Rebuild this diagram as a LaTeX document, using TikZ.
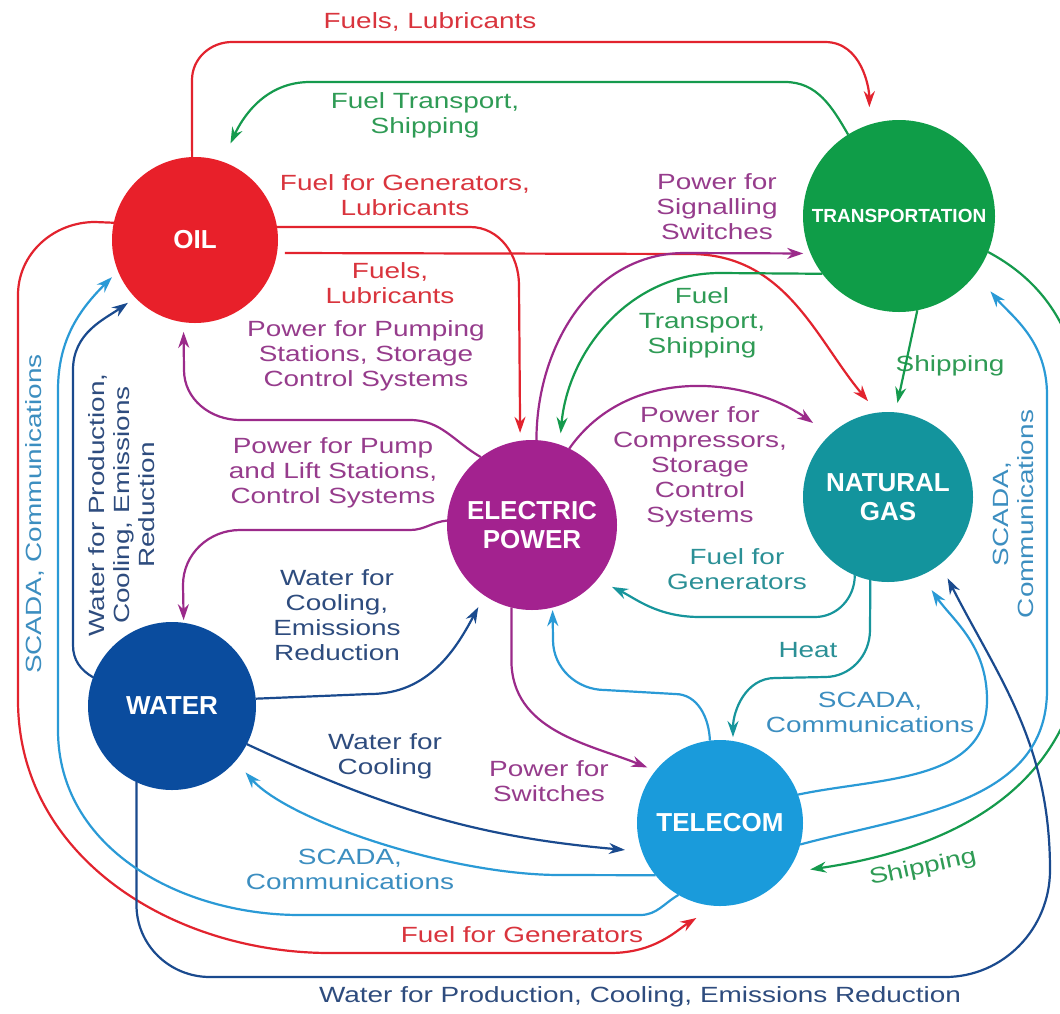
\documentclass[tikz,border=0pt]{standalone}
\usepackage{fontspec}
\setmainfont{Liberation Sans}[FakeStretch=1.27]
\newfontfamily\circfont{Liberation Sans}
\usetikzlibrary{arrows.meta}
\definecolor{coil}{HTML}{E8202A}
\definecolor{ctrans}{HTML}{0F9D48}
\definecolor{cep}{HTML}{A3228F}
\definecolor{cng}{HTML}{13949D}
\definecolor{cwater}{HTML}{0A4C9E}
\definecolor{ctel}{HTML}{1A9BDB}
\definecolor{lred}{HTML}{E2232E}
\definecolor{lgreen}{HTML}{159A4D}
\definecolor{lpurple}{HTML}{9B2A8A}
\definecolor{lteal}{HTML}{17959C}
\definecolor{ldblue}{HTML}{1A4A8E}
\definecolor{llblue}{HTML}{2A9AD6}
\definecolor{tred}{HTML}{D9343D}
\definecolor{tgreen}{HTML}{2F9B55}
\definecolor{tpurple}{HTML}{963C8C}
\definecolor{tteal}{HTML}{2B9096}
\definecolor{tdblue}{HTML}{2E4C7E}
\definecolor{tlblue}{HTML}{3C8EC0}
\tikzset{
  circ/.style={circle, minimum size=#1, inner sep=0pt, outer sep=0pt, text=white, align=center,
    font=\circfont\bfseries\fontsize{13}{14.5}\selectfont},
  lab/.style={align=center, inner sep=0pt, font=\fontsize{11}{12.5}\selectfont},
  conn/.style={line width=1.1pt, -{Stealth[length=8pt,width=5.5pt]}},
}
\begin{document}
\begin{tikzpicture}[x=0.5pt,y=-0.5pt]
\useasboundingbox (0,0) rectangle (1060,1013);
\fill[white] (0,0) rectangle (1060,1013);
\clip (0,0) rectangle (1060,1013);

% circles
\node[circ=83pt, fill=coil] (oil) at (195,240) {OIL};
\node[circ=96pt, fill=ctrans, font=\circfont\bfseries\fontsize{9.5}{11}\selectfont] (trans) at (899,216) {TRANSPORTATION};
\node[circ=85pt, fill=cep] (ep) at (532,525) {ELECTRIC\\POWER};
\node[circ=85pt, fill=cng] (ng) at (888,497) {NATURAL\\GAS};
\node[circ=84pt, fill=cwater] (water) at (172,706) {WATER};
\node[circ=83pt, fill=ctel] (tel) at (720,823) {TELECOM};

% labels
\node[lab, text=tred] (l1) at (430,22) {Fuels, Lubricants};
\node[lab, text=tgreen] (l2) at (425,115) {Fuel Transport,\\Shipping};
\node[lab, text=tred] (l3) at (405,195) {Fuel for Generators,\\Lubricants};
\node[lab, text=tpurple] (l4) at (717,207) {Power for\\Signalling\\Switches};
\node[lab, text=tred] (l5) at (390,283) {Fuels,\\Lubricants};
\node[lab, text=tgreen] (l6) at (702,323) {Fuel\\Transport,\\Shipping};
\node[lab, text=tpurple] (l7) at (366,356) {Power for Pumping\\Stations, Storage\\Control Systems};
\node[lab, text=tgreen] (l8) at (950,366) {Shipping};
\node[lab, text=tpurple] (l9) at (333,473) {Power for Pump\\and Lift Stations,\\Control Systems};
\node[lab, text=tpurple] (l10) at (700,467) {Power for\\Compressors,\\Storage\\Control\\Systems};
\node[lab, text=tteal] (l11) at (737,569) {Fuel for\\Generators};
\node[lab, text=tteal] (l12) at (808,650) {Heat};
\node[lab, text=tlblue] (l13) at (870,712) {SCADA,\\Communications};
\node[lab, text=tdblue] (l14) at (337,615) {Water for\\Cooling,\\Emissions\\Reduction};
\node[lab, text=tdblue] (l15) at (385,756) {Water for\\Cooling};
\node[lab, text=tpurple] (l16) at (549,781) {Power for\\Switches};
\node[lab, text=tlblue] (l17) at (350,869) {SCADA,\\Communications};
\node[lab, text=tgreen, rotate=12] (l18) at (923,868) {Shipping};
\node[lab, text=tred] (l19) at (522,935) {Fuel for Generators};
\node[lab, text=tdblue] (l20) at (640,997) {Water for Production, Cooling, Emissions Reduction};
\node[lab, text=tlblue, rotate=90] (l21) at (35,514) {SCADA, Communications};
\node[lab, text=tdblue, rotate=90] (l22) at (122,505) {Water for Production,\\Cooling, Emissions\\Reduction};
\node[lab, text=tlblue, rotate=90] (l23) at (1013,514) {SCADA,\\Communications};

% red (oil)
\draw[conn, lred, shorten >=8.75pt] (oil.92) -- (192,80) to[out=90,in=180] (232,42) -- (825,42) to[out=0,in=90] (trans.108);
\draw[conn, lred, shorten >=4pt] (oil.9) -- (470,227) to[out=0,in=90] (519,285) -- (ep.98);
\draw[conn, lred, shorten <=4pt, shorten >=7.5pt] (oil.-9) -- (690,254) to[out=0,in=130] (ng.97);
\draw[conn, lred, shorten >=11.4pt] (oil.168) -- (95,222) to[out=180,in=90] (18,295) -- (18,700) to[out=-90,in=180] (330,953) -- (610,953) to[out=0,in=212] (tel.-93);

% green (transportation)
\draw[conn, lgreen, shorten >=10pt] (trans.122) to[out=120,in=0] (785,82) -- (310,82) to[out=180,in=65] (oil.71);
\draw[conn, lgreen, shorten >=5.7pt] (trans.217) -- (720,273) to[out=180,in=85] (ep.71.5);
\draw[conn, lgreen, shorten >=4.75pt] (trans.-79) -- (ng.85);
\draw[conn, lgreen, shorten >=12.1pt] (trans.-22) to[out=-28,in=90] (1085,440) -- (1085,620) .. controls (1085,800) and (930,852) .. (tel.-37);

% purple (electric power)
\draw[conn, lpurple, shorten >=3.7pt] (ep.87) to[out=90,in=180] (685,253) -- (trans.203);
\draw[conn, lpurple, shorten >=4.85pt] (ep.127) to[out=150,in=0] (410,420) -- (240,420) to[out=180,in=-90] (184,370) -- (oil.262);
\draw[conn, lpurple, shorten >=1.35pt] (ep.177) to[out=185,in=0] (410,530) -- (240,530) to[out=180,in=90] (183,585) -- (water.82.5);
\draw[conn, lpurple, shorten >=10.35pt] (ep.64) to[out=55,in=145] (ng.133);
\draw[conn, lpurple, shorten >=4.4pt] (ep.256) -- (511.4,660) to[out=-90,in=158] (tel.141.5);

% teal (natural gas)
\draw[conn, lteal, shorten >=8.3pt] (ng.247) to[out=-90,in=0] (815,617) -- (700,617) to[out=180,in=-26] (ep.-40);
\draw[conn, lteal, shorten >=2pt] (ng.258) -- (870,630) to[out=-90,in=0] (825,677) -- (775,678) to[out=180,in=90] (tel.81);

% dark blue (water)
\draw[conn, ldblue, shorten >=8pt] (water.245) -- (136.5,905) to[out=-90,in=180] (210,977) -- (945,977) to[out=0,in=-90] (1050,870) to[out=90,in=-63] (ng.-52);
\draw[conn, ldblue, shorten >=4.5pt] (water.160) to[out=150,in=-90] (73,645) -- (73,370) to[out=90,in=215] (oil.224);
\draw[conn, ldblue, shorten >=6.6pt] (water.5) -- (370,694) to[out=0,in=242] (ep.236);
\draw[conn, ldblue, shorten >=8.55pt] (water.-27) to[out=-25,in=175] (tel.200);

% light blue (telecom)
\draw[conn, llblue, shorten >=1.3pt] (tel.97) to[out=92,in=0] (675,694) -- (605,690) to[out=180,in=-90] (553,640) -- (ep.-76);
\draw[conn, llblue, shorten >=9.1pt] (tel.20) to[out=12,in=-90] (987,700) to[out=90,in=-55] (ng.-67);
\draw[conn, llblue, shorten >=11.5pt] (tel.-15) to[out=15,in=-90] (1047,690) -- (1047,395) to[out=90,in=-50] (trans.-37.5);
\draw[conn, llblue, shorten >=7.6pt] (tel.219) -- (560,875) .. controls (450,875) and (289,821) .. (water.-41.6);
\draw[conn, llblue, shorten >=4.3pt] (tel.240) to[out=210,in=0] (640,915) -- (300,915) to[out=180,in=-90] (58,730) -- (58,390) to[out=90,in=225] (oil.202.5);
\end{tikzpicture}
\end{document}
